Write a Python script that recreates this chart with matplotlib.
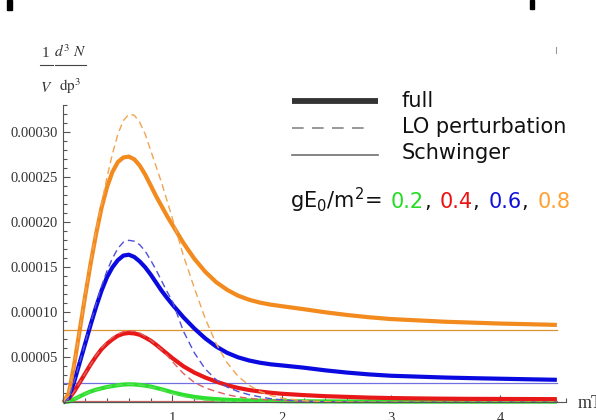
import matplotlib

matplotlib.use("Agg")
import matplotlib.pyplot as plt
from matplotlib.lines import Line2D
from matplotlib.patches import Rectangle
from matplotlib.ticker import FixedFormatter, FixedLocator, MultipleLocator

# all spectra are in units of 1e-5
UNIT = 1e-5

MT = [0.0, 0.05, 0.1, 0.15, 0.2, 0.25, 0.3, 0.35, 0.4, 0.45, 0.5, 0.55, 0.6, 0.65, 0.7, 0.75,
      0.8, 0.85, 0.9, 0.95, 1.0, 1.1, 1.2, 1.3, 1.4, 1.5, 1.6, 1.7, 1.8, 1.9, 2.0, 2.2, 2.4,
      2.6, 2.8, 3.0, 3.25, 3.5, 3.75, 4.0, 4.25, 4.52]

# full result, gE0/m^2 = 0.2 / 0.4 / 0.6 / 0.8
FULL_02 = [0, 0.1, 0.35, 0.65, 0.95, 1.2, 1.4, 1.55, 1.7, 1.8, 1.9, 1.97, 2.0, 1.98, 1.93, 1.85,
           1.75, 1.6, 1.45, 1.28, 1.1, 0.82, 0.6, 0.45, 0.35, 0.28, 0.23, 0.2, 0.17, 0.15, 0.13,
           0.11, 0.1, 0.09, 0.09, 0.08, 0.08, 0.08, 0.08, 0.08, 0.08, 0.08]
FULL_04 = [0, 0.4, 1.2, 2.2, 3.2, 4.2, 5.1, 5.9, 6.5, 7.0, 7.4, 7.62, 7.7, 7.65, 7.5, 7.2,
           6.85, 6.4, 5.9, 5.4, 4.9, 4.0, 3.3, 2.75, 2.3, 1.9, 1.6, 1.37, 1.2, 1.06, 0.95,
           0.8, 0.68, 0.6, 0.52, 0.47, 0.43, 0.4, 0.38, 0.37, 0.36, 0.35]
FULL_06 = [0, 0.5, 2.3, 4.4, 6.5, 8.6, 10.6, 12.4, 13.9, 15.0, 15.8, 16.3, 16.4, 16.15, 15.65, 15.0,
           14.2, 13.3, 12.4, 11.6, 10.85, 9.45, 8.2, 7.1, 6.2, 5.5, 5.0, 4.65, 4.4, 4.22, 4.1,
           3.85, 3.55, 3.3, 3.1, 2.95, 2.85, 2.75, 2.68, 2.62, 2.56, 2.5]
FULL_08 = [0, 1.0, 4.2, 8.0, 11.8, 15.4, 18.7, 21.6, 23.9, 25.6, 26.7, 27.2, 27.3, 27.0, 26.3, 25.3,
           24.1, 22.9, 21.8, 20.7, 19.7, 17.7, 15.95, 14.5, 13.35, 12.5, 11.85, 11.4, 11.08, 10.85, 10.68,
           10.35, 10.0, 9.7, 9.45, 9.25, 9.1, 8.95, 8.85, 8.75, 8.68, 8.6]

# leading order perturbation theory
LO_02 = [0, 0.1, 0.35, 0.65, 0.95, 1.2, 1.4, 1.55, 1.7, 1.8, 1.9, 1.97, 2.0, 1.98, 1.92, 1.82,
         1.7, 1.55, 1.4, 1.2, 1.0, 0.65, 0.4, 0.25, 0.15, 0.1, 0.06, 0.04, 0.02, 0.01, 0,
         0, 0, 0, 0, 0, 0, 0, 0, 0, 0, 0]
LO_04 = [0, 0.4, 1.2, 2.2, 3.2, 4.2, 5.2, 6.0, 6.7, 7.2, 7.6, 7.85, 7.95, 7.9, 7.7, 7.35,
         6.9, 6.4, 5.85, 5.2, 4.5, 3.2, 2.2, 1.6, 1.2, 0.85, 0.6, 0.45, 0.33, 0.25, 0.2,
         0.1, 0.05, 0.02, 0.01, 0, 0, 0, 0, 0, 0, 0]
LO_06 = [0, 0.5, 2.3, 4.4, 6.6, 8.8, 10.9, 12.9, 14.6, 16.0, 17.1, 17.8, 18.0, 17.9, 17.5, 16.8,
         15.8, 14.7, 13.5, 12.3, 11.2, 7.9, 5.5, 3.7, 2.5, 1.7, 1.2, 0.85, 0.6, 0.4, 0.27,
         0.13, 0.06, 0.03, 0.01, 0, 0, 0, 0, 0, 0, 0]
LO_08 = [0, 1.0, 4.2, 8.0, 12.0, 15.6, 19.0, 22.0, 25.0, 27.6, 29.8, 31.3, 32.0, 31.9, 31.1, 29.8,
         28.0, 26.2, 24.4, 22.4, 20.4, 16.3, 12.7, 9.3, 6.5, 4.4, 2.9, 1.9, 1.2, 0.75, 0.45,
         0.18, 0.07, 0.03, 0.01, 0, 0, 0, 0, 0, 0, 0]

# Schwinger rate (constant in mT)
SCHWINGER = [0.02, 0.15, 2.1, 8.0]

FIELDS = ["0.2", "0.4", "0.6", "0.8"]
FULL_COLORS = ["#2ee02e", "#e81818", "#0a0ae0", "#f28a1e"]
LO_COLORS = ["#60e060", "#e06060", "#5050d8", "#f2a452"]
SCHWINGER_COLORS = ["#70d070", "#c86464", "#7070e0", "#de9234"]
TEXT_COLORS = ["#22dd22", "#ee1111", "#1111dd", "#ffa030"]

X_TICKS = [1, 2, 3, 4]
Y_TICKS = [5e-5, 1e-4, 1.5e-4, 2e-4, 2.5e-4, 3e-4]
Y_TICK_LABELS = ["0.00005", "0.00010", "0.00015", "0.00020", "0.00025", "0.00030"]

W, H = 596, 420


def _fx(px):
    return px / W


def _fy(py):
    return 1 - py / H


def _plot_curves(ax):
    full = [FULL_02, FULL_04, FULL_06, FULL_08]
    lo = [LO_02, LO_04, LO_06, LO_08]
    for level, color in zip(SCHWINGER, SCHWINGER_COLORS):
        ax.plot([MT[0], MT[-1]], [level * UNIT, level * UNIT], color=color, lw=0.9, clip_on=False)
    for ys, color in zip(full, FULL_COLORS):
        ax.plot(MT, [v * UNIT for v in ys], color=color, lw=3, solid_capstyle="butt", clip_on=False)
    for ys, color in zip(lo, LO_COLORS):
        ax.plot(MT, [v * UNIT for v in ys], color=color, lw=1.0, linestyle=(0, (5, 3)))


def _ylabel(fig):
    # 1/V d^3N/dp^3, drawn as two stacked fractions
    kw = dict(fontsize=11, math_fontfamily="stix", family="Liberation Serif",
              color="#333333", ha="center", va="baseline")
    fig.text(_fx(45.5), _fy(57), "1", **kw)
    fig.text(_fx(46), _fy(92), r"$V$", **kw)
    fig.text(_fx(70), _fy(57), r"$d^3\ N$", **kw)
    fig.text(_fx(70), _fy(91), r"$\mathrm{dp}^3$", **kw)
    fig.add_artist(Line2D([_fx(40), _fx(52.5)], [_fy(65), _fy(65)], color="#444444", lw=0.8))
    fig.add_artist(Line2D([_fx(55), _fx(85.5)], [_fy(65), _fy(65)], color="#444444", lw=0.8))


def _legend(fig):
    x0, x1 = _fx(291.7), _fx(378.3)
    fig.add_artist(Line2D([x0, x1], [_fy(101), _fy(101)], color="#333333", lw=4.2, solid_capstyle="butt"))
    fig.add_artist(Line2D([x0, _fx(372)], [_fy(128), _fy(128)], color="#888888", lw=1.2,
                          linestyle=(0, (7, 5))))
    fig.add_artist(Line2D([x0, x1], [_fy(155), _fy(155)], color="#707070", lw=1.2))
    for label, base in zip(["full", "LO perturbation", "Schwinger"], [107, 133, 159]):
        fig.text(_fx(401.5), _fy(base), label, fontsize=15, family="DejaVu Sans",
                 color="#111111", va="baseline")

    renderer = fig.canvas.get_renderer()
    t = fig.text(_fx(290.5), _fy(208), r"gE$_0$/m$^2$=", fontsize=15, family="DejaVu Sans",
                 math_fontfamily="dejavusans", color="#111111", va="baseline")
    x = t.get_window_extent(renderer).x1
    for i, (field, color) in enumerate(zip(FIELDS, TEXT_COLORS)):
        x += 9
        t = fig.text(x / W, _fy(208), field, fontsize=15, family="DejaVu Sans", color=color,
                     va="baseline")
        x = t.get_window_extent(renderer).x1
        if i < len(FIELDS) - 1:
            t = fig.text(x / W, _fy(208), ",", fontsize=15, family="DejaVu Sans",
                         color="#111111", va="baseline")
            x = t.get_window_extent(renderer).x1


def main():
    plt.rcParams["font.family"] = ["Liberation Serif", "DejaVu Serif"]
    fig = plt.figure(figsize=(W / 100, H / 100), dpi=100)
    ax = fig.add_axes([_fx(63.3), 17.7 / H, 502.3 / W, 297 / H])

    _plot_curves(ax)

    ax.set_xlim(0, 4.6)
    ax.set_ylim(0, 3.3e-4)
    for side in ["top", "right"]:
        ax.spines[side].set_visible(False)
    for side in ["left", "bottom"]:
        ax.spines[side].set_color("#555555")
        ax.spines[side].set_linewidth(0.8)
    ax.xaxis.set_major_locator(FixedLocator(X_TICKS))
    ax.xaxis.set_major_formatter(FixedFormatter([str(v) for v in X_TICKS]))
    ax.xaxis.set_minor_locator(MultipleLocator(0.2))
    ax.yaxis.set_major_locator(FixedLocator(Y_TICKS))
    ax.yaxis.set_major_formatter(FixedFormatter(Y_TICK_LABELS))
    ax.yaxis.set_minor_locator(MultipleLocator(1e-5))
    ax.tick_params(which="both", direction="in", color="#555555", width=0.8,
                   labelsize=10.5, labelcolor="#333333")
    ax.tick_params(which="major", length=5)
    ax.tick_params(which="minor", length=3)
    ax.tick_params(axis="y", pad=4)
    ax.tick_params(axis="x", pad=7)

    _ylabel(fig)
    fig.text(_fx(578), _fy(403), "mT", fontsize=13, color="#333333", va="center")

    _legend(fig)

    # stray marks along the top edge of the original
    fig.add_artist(Rectangle((_fx(6.7), _fy(10)), 5 / W, 10 / H, transform=fig.transFigure,
                             color="black"))
    fig.add_artist(Rectangle((_fx(530), _fy(9.3)), 4.3 / W, 9.3 / H, transform=fig.transFigure,
                             color="black"))
    fig.add_artist(Line2D([_fx(556), _fx(556)], [_fy(47), _fy(53)], color="#999999", lw=0.8))

    fig.savefig("out.png", dpi=100)
    plt.close(fig)


if __name__ == "__main__":
    main()
